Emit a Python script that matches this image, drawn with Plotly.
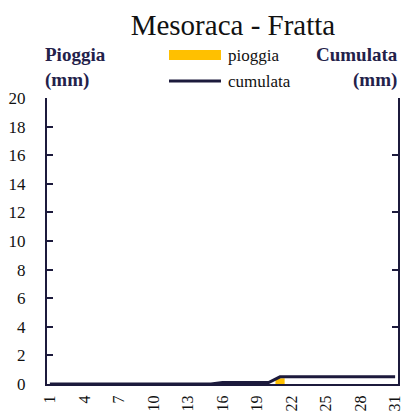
import plotly.graph_objects as go

days = list(range(1, 32))
pioggia = [0, 0, 0, 0, 0, 0, 0, 0, 0, 0,
           0, 0, 0, 0, 0, 0.1, 0, 0, 0, 0,
           0.4, 0, 0, 0, 0, 0, 0, 0, 0, 0, 0]
cumulata = [0, 0, 0, 0, 0, 0, 0, 0, 0, 0,
            0, 0, 0, 0, 0, 0.1, 0.1, 0.1, 0.1, 0.1,
            0.5, 0.5, 0.5, 0.5, 0.5, 0.5, 0.5, 0.5, 0.5, 0.5, 0.5]
x_ticks = [1, 4, 7, 10, 13, 16, 19, 22, 25, 28, 31]
y_ticks = [0, 2, 4, 6, 8, 10, 12, 14, 16, 18, 20]

NAVY = "#1c1a3c"
GOLD = "#FFC000"
FONT = "Liberation Serif"

fig = go.Figure()
fig.add_trace(go.Bar(x=days, y=pioggia, name="pioggia", marker_color=GOLD,
                     marker_line_width=0, width=0.8, yaxis="y"))
fig.add_trace(go.Scatter(x=days, y=cumulata, name="cumulata", mode="lines",
                         line=dict(color=NAVY, width=3), yaxis="y2"))

fig.update_layout(
    width=403, height=419,
    margin=dict(l=47, r=5, t=98, b=35),
    paper_bgcolor="white", plot_bgcolor="white",
    showlegend=False,
    font=dict(family=FONT, color="#111111", size=16),
    title=dict(text="Mesoraca - Fratta", x=0.578, xanchor="center", y=0.94, yanchor="middle",
               font=dict(family=FONT, size=29, color="#111111")),
    xaxis=dict(range=[0.75, 31.25], tickmode="array", tickvals=x_ticks,
               ticktext=[str(t) for t in x_ticks], tickangle=-90, ticklabeloverflow="allow",
               automargin=False, ticklabelstandoff=3,
               showgrid=False, zeroline=False, showline=True, linecolor=NAVY, linewidth=2,
               ticks="", tickfont=dict(family=FONT, size=16, color="#111111")),
    yaxis=dict(range=[0, 20], tickmode="array", tickvals=y_ticks, automargin=False,
               ticklabelstandoff=16,
               showgrid=False, zeroline=False, showline=True, linecolor=NAVY, linewidth=2,
               ticks="inside", ticklen=6, tickwidth=2, tickcolor=NAVY,
               tickfont=dict(family=FONT, size=17, color="#111111")),
    yaxis2=dict(range=[0, 20], overlaying="y", side="right", dtick=4, automargin=False,
                showgrid=False, zeroline=False, showline=True, linecolor=NAVY, linewidth=2,
                ticks="inside", ticklen=6, tickwidth=2, tickcolor=NAVY, showticklabels=False),
    annotations=[
        dict(text="<b>Pioggia</b><br><b>(mm)</b>", xref="paper", yref="paper",
             x=-0.0114, y=1.196, xanchor="left", yanchor="top", align="left", showarrow=False,
             font=dict(family=FONT, size=19, color="#23214a")),
        dict(text="<b>Cumulata</b><br><b>(mm)</b>", xref="paper", yref="paper",
             x=1.0057, y=1.196, xanchor="right", yanchor="top", align="right", showarrow=False,
             font=dict(family=FONT, size=19, color="#23214a")),
        dict(text="pioggia", xref="paper", yref="paper", x=0.51, y=1.150,
             xanchor="left", yanchor="middle", showarrow=False,
             font=dict(family=FONT, size=17, color="#111111")),
        dict(text="cumulata", xref="paper", yref="paper", x=0.51, y=1.056,
             xanchor="left", yanchor="middle", showarrow=False,
             font=dict(family=FONT, size=17, color="#111111")),
    ],
    shapes=[
        dict(type="rect", xref="paper", yref="paper", x0=0.3476, x1=0.4957, y0=1.1329, y1=1.1678,
             fillcolor=GOLD, line_width=0),
        dict(type="line", xref="paper", yref="paper", x0=0.3476, x1=0.4957, y0=1.0594, y1=1.0594,
             line=dict(color=NAVY, width=3)),
    ],
)

fig.write_html("out.html", config={"displayModeBar": False},
               post_script="document.body.style.margin='0';")
